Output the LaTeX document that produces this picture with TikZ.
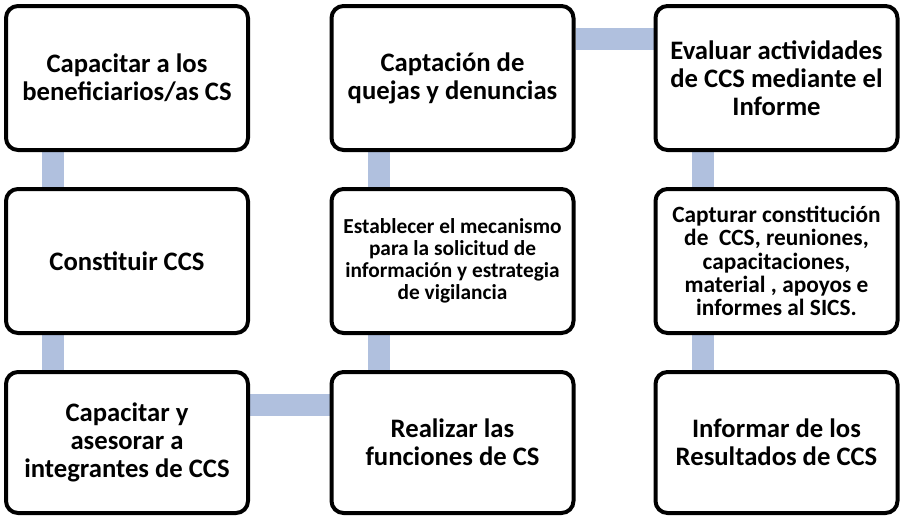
\documentclass[tikz,border=0pt]{standalone}
\usepackage{fontspec}
\setmainfont{Carlito}
\usetikzlibrary{calc,backgrounds}
\definecolor{linkblue}{RGB}{176,192,222}
\tikzset{every picture/.style={line width=0.75pt}}
\tikzset{
  stepbox/.style={draw=black, line width=3pt, rounded corners=9pt, fill=white, align=center,
    font=\bfseries\fontsize{20}{21}\selectfont, minimum width=181.5pt, minimum height=108pt, inner sep=0.75pt},
  smallbox/.style={stepbox, font=\bfseries\fontsize{16}{16.5}\selectfont},
  midbox/.style={stepbox, font=\bfseries\fontsize{17.5}{17.5}\selectfont},
  lowbox/.style={stepbox, minimum height=105.75pt},
  link/.style={draw=linkblue, line width=16.5pt}
}

\begin{document}
\begin{tikzpicture}[x=0.75pt,y=0.75pt,yscale=-1,xscale=1]
\useasboundingbox (0,0) rectangle (904,518);

% Column 1
\node [stepbox] (capben) at (127,78) {Capacitar a los\\beneficiarios/as CS};
\node [stepbox] (constituir) at (127,261) {Constituir CCS};
\node [lowbox] (asesorar) at (127,442.5) {Capacitar y\\asesorar a\\integrantes de CCS};
% Column 2
\node [stepbox] (quejas) at (452.5,78) {Captación de\\quejas y denuncias};
\node [smallbox] (mecanismo) at (452.5,261) {Establecer el mecanismo\\para la solicitud de\\información y estrategia\\de vigilancia};
\node [lowbox] (funciones) at (452.5,442.5) {Realizar las\\funciones de CS};
% Column 3
\node [stepbox] (evaluar) at (776.5,78) {Evaluar actividades\\de CCS mediante el\\Informe};
\node [midbox] (capturar) at (776.5,261) {Capturar constitución\\de\ \ CCS, reuniones,\\capacitaciones,\\material , apoyos e\\informes al SICS.};
\node [lowbox] (informar) at (776.5,442.5) {Informar de los\\Resultados de CCS};

% Connectors
\begin{scope}[on background layer]
\draw [link] ($(capben.south west)+(49,0)$) -- ($(constituir.north west)+(49,0)$);
\draw [link] ($(constituir.south west)+(49,0)$) -- ($(asesorar.north west)+(49,0)$);
\draw [link] ($(asesorar.north east)+(0,35)$) -- ($(funciones.north west)+(0,35)$);
\draw [link] ($(funciones.north west)+(49,0)$) -- ($(mecanismo.south west)+(49,0)$);
\draw [link] ($(mecanismo.north west)+(49,0)$) -- ($(quejas.south west)+(49,0)$);
\draw [link] ($(quejas.north east)+(0,35)$) -- ($(evaluar.north west)+(0,35)$);
\draw [link] ($(evaluar.south west)+(49,0)$) -- ($(capturar.north west)+(49,0)$);
\draw [link] ($(capturar.south west)+(49,0)$) -- ($(informar.north west)+(49,0)$);
\end{scope}

\end{tikzpicture}
\end{document}
